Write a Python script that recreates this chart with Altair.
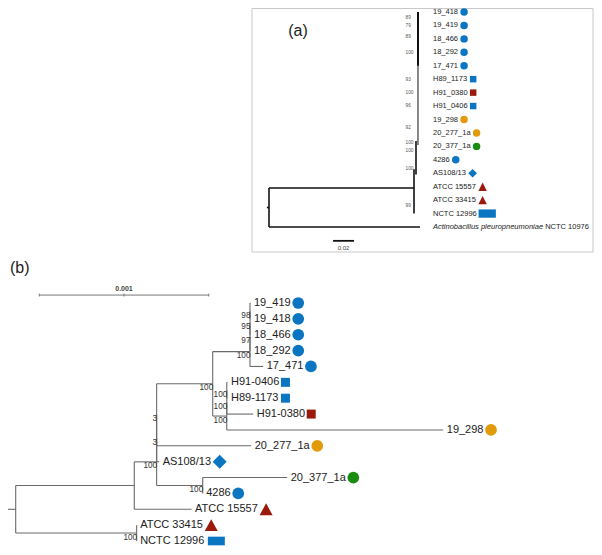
import altair as alt
import pandas as pd

# ================= DATA : panel (a) =================
tips_a = ["19_418", "19_419", "18_466", "18_292", "17_471", "H89_1173", "H91_0380",
          "H91_0406", "19_298", "20_277_1a", "20_377_1a", "4286", "AS108/13",
          "ATCC 15557", "ATCC 33415", "NCTC 12996"]
sym_a = ["bc", "bc", "bc", "bc", "bc", "bs", "rs", "bs", "oc", "oc", "gc", "bc", "bd",
         "rt", "rt", "br"]
out_a_italic = "Actinobacillus pleuropneumoniae"
out_a_plain = "NCTC 10976"
out_row_a = 16
label_x_a = 0.1562
# vertical lines of the collapsed tree (a)
vert_a_x = [0.0, 0.1381, 0.1400, 0.1419, 0.1419]
vert_a_y1 = [13.1, 11.7, 9.6, 0.0, 0.0]
vert_a_y2 = [16.0, 15.0, 12.1, 9.9, 4.0]
vert_a_w = [1.6, 1.6, 1.6, 1.0, 2.0]
# horizontal lines of tree (a)
hor_a_x1 = [0.0, 0.0, -0.002]
hor_a_x2 = [0.1381, 0.1438, 0.0]
hor_a_y = [13.1, 16.0, 14.55]
boot_a = ["89", "79", "89", "100", "93", "100", "96", "92", "100", "100", "100", "99"]
boot_a_y = [0.46, 1.07, 1.88, 3.02, 5.09, 6.04, 7.03, 8.62, 9.78, 10.31, 11.69, 14.47]
boot_a_x = 0.130
scalebar_a = [0.061, 0.081]
scalebar_a_y = 17.03
scalebar_a_text = "0.02"
box_a = [-0.0162, 0.3086, -0.26, 17.86]
title_a = "(a)"
title_a_pos = [0.0276, 1.38]

# ================= DATA : panel (b) =================
tips_b = ["19_419", "19_418", "18_466", "18_292", "17_471", "H91-0406", "H89-1173",
          "H91-0380", "19_298", "20_277_1a", "AS108/13", "20_377_1a", "4286",
          "ATCC 15557", "ATCC 33415", "NCTC 12996"]
tip_dist_b = [0.001386, 0.001386, 0.001386, 0.001386, 0.001461, 0.001250, 0.001250,
              0.001402, 0.002524, 0.001390, 0.000847, 0.001603, 0.001104, 0.001038,
              0.000714, 0.000714]
sym_b = ["bc", "bc", "bc", "bc", "bc", "bs", "bs", "rs", "oc", "oc", "bd", "gc", "bc",
         "rt", "rt", "br"]
# internal nodes: name, distance from root, children, support
node_names_b = ["n1", "n2", "n3", "A", "q1", "q2", "Q", "P", "r1", "r2", "S", "R", "T", "V", "U"]
node_dist_b = [0.001383, 0.001383, 0.001383, 0.001383, 0.001246, 0.001246, 0.001246,
               0.001163, 0.000832, 0.000832, 0.001104, 0.000832, 0.000700, 0.000714, 0.0]
node_children_b = [["19_419", "19_418"], ["n1", "18_466"], ["n2", "18_292"], ["n3", "17_471"],
                   ["H91-0406", "H89-1173"], ["q1", "H91-0380"], ["q2", "19_298"],
                   ["A", "Q"], ["P", "20_277_1a"], ["r1", "AS108/13"],
                   ["20_377_1a", "4286"], ["r2", "S"], ["R", "ATCC 15557"],
                   ["ATCC 33415", "NCTC 12996"], ["T", "V"]]
node_support_b = ["98", "95", "97", "100", "100", "100", "100", "100", "3", "3", "100",
                  "100", "", "100", ""]
root_stub_b = -0.0000809
scalebar_b = [0.0001394, 0.0011394]
scalebar_b_y = -0.5
scalebar_b_text = "0.001"
title_b = "(b)"
title_b_pos = [-0.0000336, -2.2]

COLORS = {"b": "#0b75c2", "r": "#9a1b0b", "o": "#e09a0a", "g": "#1a8c12"}

# ================= helpers =================
ARIAL = {c: 556 for c in "0123456789_"}
ARIAL.update({"-": 333, "/": 278, " ": 278, "A": 667, "T": 611, "C": 722, "N": 722,
              "H": 722, "S": 667, "a": 556, "b": 556, "c": 500, "e": 556, "i": 222,
              "l": 222, "m": 833, "n": 556, "o": 556, "p": 556, "r": 333, "s": 500,
              "t": 278, "u": 556})


def text_w(s, fs):
    return sum(ARIAL.get(ch, 556) for ch in s) / 1000.0 * fs


FONT = "Liberation Sans"
# scales (pixel ranges inside the 586x539 drawing)
PXA = 1050.0
XA = alt.Scale(domain=[0, 0.3], range=[261, 261 + 0.3 * PXA])
YA = alt.Scale(domain=[0, 16], range=[4, 219])
PXB = 169400.0
XB = alt.Scale(domain=[0, 0.003], range=[7.7, 7.7 + 0.003 * PXB])
YB = alt.Scale(domain=[0, 15], range=[295, 533])


def xe(f, s):
    return alt.X(f"{f}:Q", scale=s, axis=None)


def ye(f, s):
    return alt.Y(f"{f}:Q", scale=s, axis=None)


def rules(df, XS, YS, color):
    return alt.Chart(df).mark_rule(color=color).encode(
        x=xe("x1", XS), x2="x2:Q", y=ye("y1", YS), y2="y2:Q",
        strokeWidth=alt.StrokeWidth("w:Q", scale=None))


def texts(df, XS, YS, **kw):
    return alt.Chart(df).mark_text(font=FONT, baseline="middle", **kw).encode(
        x=xe("x", XS), y=ye("y", YS), text="t:N")


# symbol specs per panel: shape, size, half width, gap
SHAPES_A = {"c": ("circle", 56, 3.75, 2.3), "s": ("square", 42, 3.25, 2.3),
            "d": ("diamond", 76, 4.35, 2.3),
            "t": ("M0,-1 L1,1 L-1,1 Z", 72, 4.25, 2.0),
            "r": ("M-1,-0.48 L1,-0.48 L1,0.48 L-1,0.48 Z", 299, 8.65, 1.8)}
SHAPES_B = {"c": ("circle", 137, 5.85, 1.7), "s": ("square", 81, 4.5, 1.7),
            "d": ("diamond", 196, 7.0, 1.7),
            "t": ("M0,-0.92 L1,0.92 L-1,0.92 Z", 169, 6.5, 1.0),
            "r": ("M-1,-0.51 L1,-0.51 L1,0.51 L-1,0.51 Z", 289, 8.5, 3.5)}


def symbol_layers(labels, syms, label_x, rows, fs, px, XS, YS, specs, dx0):
    recs = []
    for lab, sy, lx, r in zip(labels, syms, label_x, rows):
        shape, size, half, gap = specs[sy[1]]
        x = lx + (dx0 + text_w(lab, fs) + gap + half) / px
        recs.append({"x": x, "y": r, "col": COLORS[sy[0]], "k": sy[1]})
    df = pd.DataFrame(recs)
    out = []
    for k, (shape, size, half, gap) in specs.items():
        sub = df[df["k"] == k]
        if len(sub) == 0:
            continue
        out.append(alt.Chart(sub).mark_point(shape=shape, size=size, filled=True, opacity=1)
                   .encode(x=xe("x", XS), y=ye("y", YS),
                           color=alt.Color("col:N", scale=None)))
    return out


# ================= panel (a) =================
fa = 7.5
seg_a = pd.DataFrame(
    [{"x1": x, "x2": x, "y1": a, "y2": b, "w": w}
     for x, a, b, w in zip(vert_a_x, vert_a_y1, vert_a_y2, vert_a_w)] +
    [{"x1": a, "x2": b, "y1": y, "y2": y, "w": 1.6}
     for a, b, y in zip(hor_a_x1, hor_a_x2, hor_a_y)] +
    [{"x1": scalebar_a[0], "x2": scalebar_a[1], "y1": scalebar_a_y, "y2": scalebar_a_y, "w": 1.8}])

box_df = pd.DataFrame([{"x1": box_a[0], "x2": box_a[1], "y1": box_a[2], "y2": box_a[3]}])
box = alt.Chart(box_df).mark_rect(fill="white", stroke="#c8c8c8", strokeWidth=1).encode(
    x=xe("x1", XA), x2="x2:Q", y=ye("y1", YA), y2="y2:Q")

rows_a = list(range(len(tips_a)))
lab_a = pd.DataFrame({"x": [label_x_a] * len(tips_a), "y": rows_a, "t": tips_a})
out_it = pd.DataFrame({"x": [label_x_a], "y": [out_row_a], "t": [out_a_italic]})
out_pl = pd.DataFrame({"x": [label_x_a + text_w(out_a_italic + " ", fa) / PXA],
                       "y": [out_row_a], "t": [out_a_plain]})
boot_a_df = pd.DataFrame({"x": [boot_a_x] * len(boot_a), "y": boot_a_y, "t": boot_a})
sb_a_df = pd.DataFrame({"x": [sum(scalebar_a) / 2], "y": [scalebar_a_y + 0.52], "t": [scalebar_a_text]})
ttl_a = pd.DataFrame({"x": [title_a_pos[0]], "y": [title_a_pos[1]], "t": [title_a]})

panel_a = alt.layer(
    box,
    rules(seg_a, XA, YA, "#111"),
    texts(lab_a, XA, YA, align="left", fontSize=fa, color="#222"),
    texts(out_it, XA, YA, align="left", fontSize=fa, color="#222", fontStyle="italic"),
    texts(out_pl, XA, YA, align="left", fontSize=fa, color="#222"),
    texts(boot_a_df, XA, YA, align="left", fontSize=4.8, color="#555"),
    texts(sb_a_df, XA, YA, align="center", fontSize=6, color="#444"),
    texts(ttl_a, XA, YA, align="center", fontSize=16, color="#222"),
    *symbol_layers(tips_a, sym_a, [label_x_a] * len(tips_a), rows_a, fa, PXA, XA, YA, SHAPES_A, 0.0),
)

# ================= panel (b) : layout of the tree =================
dist = dict(zip(tips_b, tip_dist_b))
ypos = {t: float(i) for i, t in enumerate(tips_b)}
for n, d, ch in zip(node_names_b, node_dist_b, node_children_b):
    dist[n] = d
    ypos[n] = (ypos[ch[0]] + ypos[ch[-1]]) / 2.0

segs_b = []
for n, ch in zip(node_names_b, node_children_b):
    segs_b.append({"x1": dist[n], "x2": dist[n], "y1": ypos[ch[0]], "y2": ypos[ch[-1]], "w": 1.1})
    for c in ch:
        segs_b.append({"x1": dist[n], "x2": dist[c], "y1": ypos[c], "y2": ypos[c], "w": 1.1})
segs_b.append({"x1": root_stub_b, "x2": 0.0, "y1": ypos["U"], "y2": ypos["U"], "w": 1.1})
seg_b = pd.DataFrame(segs_b)

sb_b = pd.DataFrame(
    [{"x1": scalebar_b[0], "x2": scalebar_b[1], "y1": scalebar_b_y, "y2": scalebar_b_y, "w": 1.0}] +
    [{"x1": v, "x2": v, "y1": scalebar_b_y - 0.09, "y2": scalebar_b_y + 0.09, "w": 1.0}
     for v in [scalebar_b[0], sum(scalebar_b) / 2, scalebar_b[1]]])

fb = 11
TIPDX = 3.5
lab_b = pd.DataFrame({"x": tip_dist_b, "y": [ypos[t] for t in tips_b], "t": tips_b})
sup = [(dist[n], ypos[n] + 0.29, s) for n, s in zip(node_names_b, node_support_b) if s]
sup_b = pd.DataFrame({"x": [a for a, _, _ in sup], "y": [b for _, b, _ in sup],
                      "t": [c for _, _, c in sup]})
sb_b_lab = pd.DataFrame({"x": [sum(scalebar_b) / 2], "y": [scalebar_b_y - 0.37], "t": [scalebar_b_text]})
ttl_b = pd.DataFrame({"x": [title_b_pos[0]], "y": [title_b_pos[1]], "t": [title_b]})

panel_b = alt.layer(
    rules(seg_b, XB, YB, "#6a6a6a"),
    rules(sb_b, XB, YB, "#777"),
    texts(lab_b, XB, YB, align="left", fontSize=fb, color="#222", dx=TIPDX),
    texts(sup_b, XB, YB, align="right", fontSize=8.2, color="#333", dx=0.5),
    texts(sb_b_lab, XB, YB, align="center", fontSize=7, color="#444", fontWeight="bold"),
    texts(ttl_b, XB, YB, align="left", fontSize=16, color="#222"),
    *symbol_layers(tips_b, sym_b, tip_dist_b, [ypos[t] for t in tips_b], fb, PXB, XB, YB,
                   SHAPES_B, TIPDX),
)

chart = alt.layer(panel_a, panel_b).resolve_scale(
    x="independent", y="independent"
).properties(width=586, height=539, padding=0, autosize="none").configure_view(stroke=None)

chart.save("out.html", embed_options={"renderer": "svg", "actions": False})
